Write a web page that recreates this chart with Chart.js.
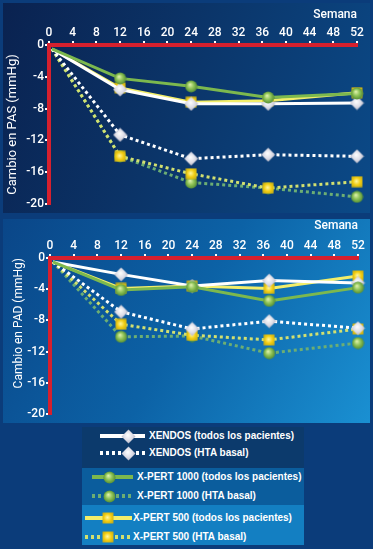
<!DOCTYPE html>
<html>
<head>
<meta charset="utf-8">
<script src="https://cdn.jsdelivr.net/npm/chart.js@4.4.1/dist/chart.umd.min.js"></script>
<style>
  body { margin: 0; width: 373px; height: 549px; overflow: hidden; position: relative;
         background: #0b3c7a; font-family: "Liberation Sans", Arial, sans-serif; }
  .panel { position: absolute; left: 3px; width: 367px; }
  #p1 { top: 3px; height: 210px; background: linear-gradient(110deg, #0a2250 0%, #0b3468 45%, #0b4a88 100%); }
  #p2 { top: 219px; height: 204px; background: linear-gradient(120deg, #0a4688 0%, #0c62a6 50%, #1a90d2 100%); }
  .panel canvas { position: absolute; left: 0; top: 0; }
  .box { position: absolute; left: 82px; width: 222px; }
  .row { position: absolute; left: 0; width: 100%; height: 0; }
  .ln { position: absolute; }
  .row canvas { position: absolute; }
  .txt { position: absolute; top: -7px; color: #fff; font-weight: bold; font-size: 10px; line-height: 14px; white-space: nowrap; }
</style>
</head>
<body>
<div class="panel" id="p1"><canvas id="pas" width="367" height="210"></canvas></div>
<div class="panel" id="p2"><canvas id="pad" width="367" height="204"></canvas></div>
<div class="box" style="top:427px;height:41px;background:#0c3a6c"></div>
<div class="box" style="top:468px;height:37px;background:#0b5d9d"></div>
<div class="box" style="top:505px;height:40px;background:#137fc2"></div>
<div id="legend"></div>

<script>
// semanas y valores (mmHg)
var weeks = [0.5, 12, 24, 37, 52];

// PAS
var pasXendosAll = [-0.5, -5.6, -7.4, -7.4, -7.3];
var pasXendosHta = [-0.5, -11.3, -14.3, -13.8, -14.0];
var pasXpert1000All = [-0.5, -4.2, -5.2, -6.6, -6.1];
var pasXpert1000Hta = [-0.5, -14.0, -17.3, -18.0, -19.1];
var pasXpert500All = [-0.5, -5.4, -7.2, -7.0, -6.0];
var pasXpert500Hta = [-0.5, -14.0, -16.2, -18.0, -17.2];

// PAD
var padXendosAll = [-0.5, -2.1, -3.6, -2.9, -3.2];
var padXendosHta = [-0.5, -6.9, -9.1, -8.1, -9.0];
var padXpert1000All = [-0.5, -4.1, -3.7, -5.5, -3.8];
var padXpert1000Hta = [-0.5, -10.1, -10.0, -12.2, -10.9];
var padXpert500All = [-0.5, -3.9, -3.6, -3.9, -2.3];
var padXpert500Hta = [-0.5, -8.5, -9.9, -10.5, -9.1];

var seriesNames = ['XENDOS (todos los pacientes)', 'XENDOS (HTA basal)',
  'X-PERT 1000 (todos los pacientes)', 'X-PERT 1000 (HTA basal)',
  'X-PERT 500 (todos los pacientes)', 'X-PERT 500 (HTA basal)'];

var xMin = 0, xMax = 52, xStep = 4;
var yMin = -20, yMax = 0, yStep = 4;

// marker images
function mk(size, draw) {
  var c = document.createElement('canvas');
  c.width = size; c.height = size;
  draw(c.getContext('2d'), size);
  return c;
}
function diamond() {
  return mk(15, function (g, s) {
    var gr = g.createRadialGradient(s * 0.45, s * 0.4, 0, s / 2, s / 2, s * 0.6);
    gr.addColorStop(0, '#ffffff'); gr.addColorStop(0.5, '#dcdce6'); gr.addColorStop(1, '#9898ac');
    g.fillStyle = gr;
    g.beginPath(); g.moveTo(s / 2, 0.5); g.lineTo(s - 0.5, s / 2); g.lineTo(s / 2, s - 0.5); g.lineTo(0.5, s / 2); g.closePath(); g.fill();
  });
}
function circle() {
  return mk(13, function (g, s) {
    var gr = g.createRadialGradient(s * 0.4, s * 0.35, 0, s / 2, s / 2, s / 2);
    gr.addColorStop(0, '#e6f6b4'); gr.addColorStop(0.5, '#90c458'); gr.addColorStop(1, '#4e8830');
    g.fillStyle = gr;
    g.beginPath(); g.arc(s / 2, s / 2, s / 2 - 0.5, 0, Math.PI * 2); g.fill();
  });
}
function square() {
  return mk(12, function (g, s) {
    var gr = g.createRadialGradient(s * 0.45, s * 0.45, 0, s / 2, s / 2, s * 0.7);
    gr.addColorStop(0, '#fff7a0'); gr.addColorStop(0.45, '#f2cc10'); gr.addColorStop(1, '#a89a20');
    g.fillStyle = gr;
    g.fillRect(0.5, 0.5, s - 1, s - 1);
  });
}

var styles = [
  { color: '#ffffff', dash: [], marker: diamond, order: 2 },
  { color: '#ffffff', dash: [3, 3], marker: diamond, order: 4 },
  { color: '#7cb84e', dash: [], marker: circle, order: 1 },
  { color: '#6cae74', dash: [3, 3], marker: circle, order: 6 },
  { color: '#f2ee6a', dash: [], marker: square, order: 3 },
  { color: '#d2e070', dash: [3, 3], marker: square, order: 5 }
];

function pts(vals) {
  return weeks.map(function (w, i) { return { x: w, y: vals[i] }; });
}

function makeChart(id, series, yTitle, o) {
  var datasets = series.map(function (vals, i) {
    var st = styles[i];
    return {
      label: seriesNames[i],
      data: pts(vals),
      borderColor: st.color,
      borderWidth: 3,
      borderDash: st.dash,
      borderCapStyle: 'butt',
      pointStyle: st.marker(),
      pointRadius: weeks.map(function (w, k) { return k === 0 ? 0 : 6; }),
      pointHoverRadius: 6,
      tension: 0,
      clip: false,
      order: st.order
    };
  });
  return new Chart(document.getElementById(id).getContext('2d'), {
    type: 'line',
    data: { datasets: datasets },
    options: {
      responsive: false,
      animation: false,
      layout: { padding: { left: 0, top: 0, right: o.right, bottom: o.bottom } },
      plugins: { legend: { display: false }, tooltip: { enabled: false } },
      scales: {
        x: {
          type: 'linear', position: 'top', min: xMin, max: xMax,
          afterFit: function (s) { s.height = o.top; },
          ticks: { stepSize: xStep, color: '#fff', padding: 1, font: { family: 'Roboto', size: 12, weight: '500' } },
          grid: { drawOnChartArea: false, drawTicks: true, tickLength: 4, color: '#fff', lineWidth: 2 },
          border: { color: '#d6202e', width: 4 },
          title: { display: true, text: 'Semana', align: 'end', color: '#fff',
                   padding: { top: o.semanaPad, bottom: 0 }, font: { family: 'Roboto', size: 12, weight: '500' } }
        },
        y: {
          min: yMin, max: yMax,
          afterFit: function (s) { s.width = o.left; },
          ticks: { stepSize: yStep, color: '#fff', padding: 1, font: { family: 'Roboto', size: 12, weight: '500' } },
          grid: { drawOnChartArea: false, drawTicks: true, tickLength: 4, color: '#fff', lineWidth: 2 },
          border: { color: '#d6202e', width: 4 },
          title: { display: true, text: yTitle, align: o.titleAlign, color: '#fff',
                   padding: { top: o.titlePad, bottom: 0 }, font: { family: 'Roboto', size: o.titleSize } }
        }
      }
    }
  });
}

makeChart('pas',
  [pasXendosAll, pasXendosHta, pasXpert1000All, pasXpert1000Hta, pasXpert500All, pasXpert500Hta],
  'Cambio en PAS (mmHg)',
  { left: 46, top: 42, right: 13, bottom: 9, semanaPad: 5, titlePad: 2, titleAlign: 'center', titleSize: 13 });

makeChart('pad',
  [padXendosAll, padXendosHta, padXpert1000All, padXpert1000Hta, padXpert500All, padXpert500Hta],
  'Cambio en PAD (mmHg)',
  { left: 47, top: 39, right: 12, bottom: 7, semanaPad: 0, titlePad: 9, titleAlign: 'end', titleSize: 12 });

// legend
var legendRows = [
  { y: 436, l1: 100, l2: 145, m: 128, t: 149 },
  { y: 453, l1: 100, l2: 145, m: 128, t: 149 },
  { y: 477, l1: 92, l2: 133, m: 109, t: 137 },
  { y: 496, l1: 92, l2: 133, m: 109, t: 137 },
  { y: 518, l1: 85, l2: 132, m: 108, t: 133 },
  { y: 537, l1: 85, l2: 132, m: 108, t: 133 }
];
var lg = document.getElementById('legend');
legendRows.forEach(function (r, i) {
  var st = styles[i];
  var row = document.createElement('div');
  row.className = 'row';
  row.style.top = r.y + 'px';
  var ln = document.createElement('div');
  ln.className = 'ln';
  ln.style.left = r.l1 + 'px';
  ln.style.width = (r.l2 - r.l1) + 'px';
  ln.style.height = '4px';
  ln.style.top = '-2px';
  ln.style.background = st.dash.length
    ? 'repeating-linear-gradient(90deg,' + st.color + ' 0 3px, transparent 3px 6px)'
    : st.color;
  row.appendChild(ln);
  var m = st.marker();
  m.style.left = (r.m - m.width / 2) + 'px';
  m.style.top = (-m.height / 2) + 'px';
  row.appendChild(m);
  var t = document.createElement('div');
  t.className = 'txt';
  t.style.left = r.t + 'px';
  t.textContent = seriesNames[i];
  row.appendChild(t);
  lg.appendChild(row);
});
</script>
</body>
</html>
